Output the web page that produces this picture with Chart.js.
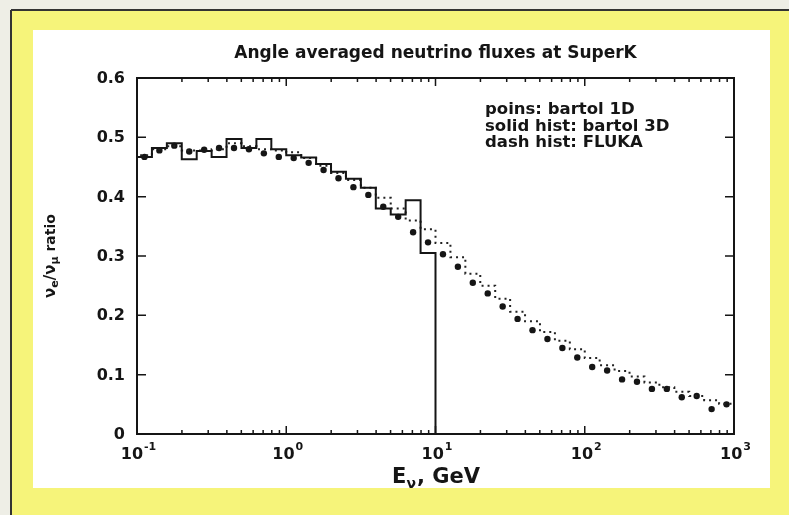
<!DOCTYPE html>
<html>
<head>
<meta charset="utf-8">
<script src="https://cdn.jsdelivr.net/npm/chart.js@4.4.0/dist/chart.umd.min.js"></script>
<style>
  html, body { margin: 0; padding: 0; background: #f6f47a; }
  canvas { display: block; }
</style>
</head>
<body>
<canvas id="fluxChart" width="789" height="515"></canvas>
<script>
// bin edges, 10 per decade, GeV
const edges = [0.1, 0.1259, 0.1585, 0.1995, 0.2512, 0.3162, 0.3981, 0.5012, 0.631, 0.7943,
  1, 1.259, 1.585, 1.995, 2.512, 3.162, 3.981, 5.012, 6.31, 7.943,
  10, 12.59, 15.85, 19.95, 25.12, 31.62, 39.81, 50.12, 63.1, 79.43,
  100, 125.9, 158.5, 199.5, 251.2, 316.2, 398.1, 501.2, 631, 794.3, 1000];

// solid hist: bartol 3D (0.1 - 10 GeV)
const bartol3D = [0.467, 0.482, 0.490, 0.463, 0.477, 0.467, 0.497, 0.482, 0.497, 0.480,
  0.470, 0.466, 0.455, 0.442, 0.430, 0.415, 0.380, 0.370, 0.394, 0.305];

// dash hist: FLUKA
const fluka = [0.470, 0.480, 0.485, 0.478, 0.478, 0.480, 0.490, 0.485, 0.480, 0.478,
  0.475, 0.465, 0.452, 0.440, 0.428, 0.415, 0.398, 0.380, 0.360, 0.345,
  0.322, 0.298, 0.270, 0.250, 0.228, 0.206, 0.190, 0.172, 0.157, 0.143,
  0.128, 0.116, 0.106, 0.097, 0.087, 0.079, 0.071, 0.064, 0.057, 0.051];

// points: bartol 1D
const bartol1D = [0.467, 0.478, 0.486, 0.476, 0.479, 0.482, 0.482, 0.480, 0.473, 0.467,
  0.465, 0.457, 0.445, 0.431, 0.416, 0.403, 0.383, 0.366, 0.340, 0.323,
  0.303, 0.282, 0.255, 0.237, 0.215, 0.194, 0.175, 0.160, 0.145, 0.129,
  0.113, 0.107, 0.092, 0.088, 0.076, 0.076, 0.062, 0.064, 0.042, 0.050];

const xDecades = [0.1, 1, 10, 100, 1000];
const xExponents = ['-1', '0', '1', '2', '3'];
const yTicks = [0, 0.1, 0.2, 0.3, 0.4, 0.5, 0.6];
const yTickLabels = ['0', '0.1', '0.2', '0.3', '0.4', '0.5', '0.6'];
const legendLines = ['poins: bartol 1D', 'solid hist: bartol 3D', 'dash hist: FLUKA'];

function histPoints(vals) {
  const pts = [{x: edges[0], y: 0}];
  vals.forEach((v, i) => pts.push({x: edges[i], y: v}));
  pts.push({x: edges[vals.length], y: vals[vals.length - 1]});
  pts.push({x: edges[vals.length], y: 0});
  return pts;
}

const INK = '#151515';
const FONT = '"DejaVu Sans", "Liberation Sans", sans-serif';

function txt(ctx, s, x, y, size, align, spacing) {
  ctx.font = 'bold ' + size + 'px ' + FONT;
  ctx.letterSpacing = (spacing || 0) + 'px';
  ctx.textAlign = align || 'left';
  ctx.fillText(s, x, y);
}

function width(ctx, s, size, spacing) {
  ctx.font = 'bold ' + size + 'px ' + FONT;
  ctx.letterSpacing = (spacing || 0) + 'px';
  return ctx.measureText(s).width;
}

const decor = {
  id: 'decor',
  beforeDraw(chart) {
    const ctx = chart.ctx;
    ctx.save();
    ctx.fillStyle = '#eeeee6';
    ctx.fillRect(0, 0, 789, 515);
    ctx.fillStyle = '#f6f47a';
    ctx.fillRect(11, 10, 778, 505);
    ctx.strokeStyle = '#333';
    ctx.lineWidth = 2;
    ctx.beginPath();
    ctx.moveTo(11, 10); ctx.lineTo(789, 10);
    ctx.moveTo(11, 10); ctx.lineTo(11, 515);
    ctx.stroke();
    ctx.fillStyle = '#ffffff';
    ctx.fillRect(33, 30, 737, 458);
    ctx.restore();
  },
  afterDraw(chart) {
    const ctx = chart.ctx;
    const a = chart.chartArea;
    const xs = chart.scales.x, ys = chart.scales.y;
    ctx.save();
    ctx.strokeStyle = INK;
    ctx.fillStyle = INK;
    ctx.lineWidth = 2;
    ctx.strokeRect(a.left, a.top, a.right - a.left, a.bottom - a.top);

    // x ticks (log, inward, top and bottom)
    ctx.lineWidth = 1.5;
    ctx.beginPath();
    xDecades.forEach(d => {
      for (let m = 1; m <= 9; m++) {
        const v = d * m;
        if (v > 1000) break;
        const px = xs.getPixelForValue(v);
        const len = m === 1 ? 8 : 4;
        ctx.moveTo(px, a.bottom); ctx.lineTo(px, a.bottom - len);
        ctx.moveTo(px, a.top); ctx.lineTo(px, a.top + len);
      }
    });
    yTicks.forEach(v => {
      const py = ys.getPixelForValue(v);
      ctx.moveTo(a.left, py); ctx.lineTo(a.left + 9, py);
      ctx.moveTo(a.right, py); ctx.lineTo(a.right - 9, py);
    });
    ctx.stroke();

    // y tick labels
    ctx.textBaseline = 'middle';
    yTicks.forEach((v, i) => {
      txt(ctx, yTickLabels[i], 125, ys.getPixelForValue(v) + 1, 16, 'right', 0);
    });

    // x tick labels 10^n
    ctx.textBaseline = 'alphabetic';
    xDecades.forEach((d, i) => {
      const px = xs.getPixelForValue(d);
      const wb = width(ctx, '10', 16, 0);
      const we = width(ctx, xExponents[i], 11, 0);
      const x0 = px - (wb + we) / 2 + 1;
      txt(ctx, '10', x0, 459, 16, 'left', 0);
      txt(ctx, xExponents[i], x0 + wb + 1, 450, 11, 'left', 0);
    });

    // title
    txt(ctx, 'Angle averaged neutrino fluxes at SuperK', (a.left + a.right) / 2, 58, 17, 'center', 0);

    // legend text
    legendLines.forEach((s, i) => txt(ctx, s, 485, 114 + i * 16.5, 16.5, 'left', 0));

    // x axis title: E_nu, GeV
    {
      const w1 = width(ctx, 'E', 21, 0);
      const w2 = width(ctx, 'ν', 14, 0);
      const w3 = width(ctx, ', GeV', 21, 0);
      let x = (a.left + a.right) / 2 - (w1 + w2 + w3) / 2;
      txt(ctx, 'E', x, 483, 21, 'left', 0); x += w1;
      txt(ctx, 'ν', x, 488, 14, 'left', 0); x += w2 + 1;
      txt(ctx, ', GeV', x, 483, 21, 'left', 0);
    }

    // y axis title: nu_e / nu_mu ratio, rotated
    {
      ctx.translate(55, 256);
      ctx.rotate(-Math.PI / 2);
      const parts = [['ν', 15, 0], ['e', 11, 3], ['/ν', 15, 0], ['μ', 11, 3], [' ratio', 14, 0]];
      const total = parts.reduce((s, p) => s + width(ctx, p[0], p[1], 0), 0);
      let x = -total / 2;
      parts.forEach(p => {
        const w = width(ctx, p[0], p[1], 0);
        txt(ctx, p[0], x, p[2], p[1], 'left', 0);
        x += w;
      });
    }
    ctx.restore();
  }
};

new Chart(document.getElementById('fluxChart'), {
  type: 'line',
  data: {
    datasets: [
      {
        label: 'bartol 3D',
        data: histPoints(bartol3D),
        stepped: true,
        borderColor: INK,
        borderWidth: 2,
        pointRadius: 0,
        fill: false,
        clip: 6
      },
      {
        label: 'FLUKA',
        data: histPoints(fluka),
        stepped: true,
        borderColor: '#222',
        borderWidth: 2,
        borderDash: [2, 4],
        pointRadius: 0,
        fill: false,
        clip: 6
      },
      {
        label: 'bartol 1D',
        data: bartol1D.map((v, i) => ({x: Math.sqrt(edges[i] * edges[i + 1]), y: v})),
        showLine: false,
        pointStyle: 'circle',
        pointRadius: 3.2,
        pointBackgroundColor: INK,
        pointBorderColor: INK,
        pointBorderWidth: 0,
        clip: 6
      }
    ]
  },
  options: {
    responsive: false,
    animation: false,
    layout: {
      padding: { left: 137, right: 55, top: 78, bottom: 81 }
    },
    plugins: {
      legend: { display: false },
      tooltip: { enabled: false }
    },
    scales: {
      x: { type: 'logarithmic', min: 0.1, max: 1000, display: false },
      y: { type: 'linear', min: 0, max: 0.6, display: false }
    }
  },
  plugins: [decor]
});
</script>
</body>
</html>
